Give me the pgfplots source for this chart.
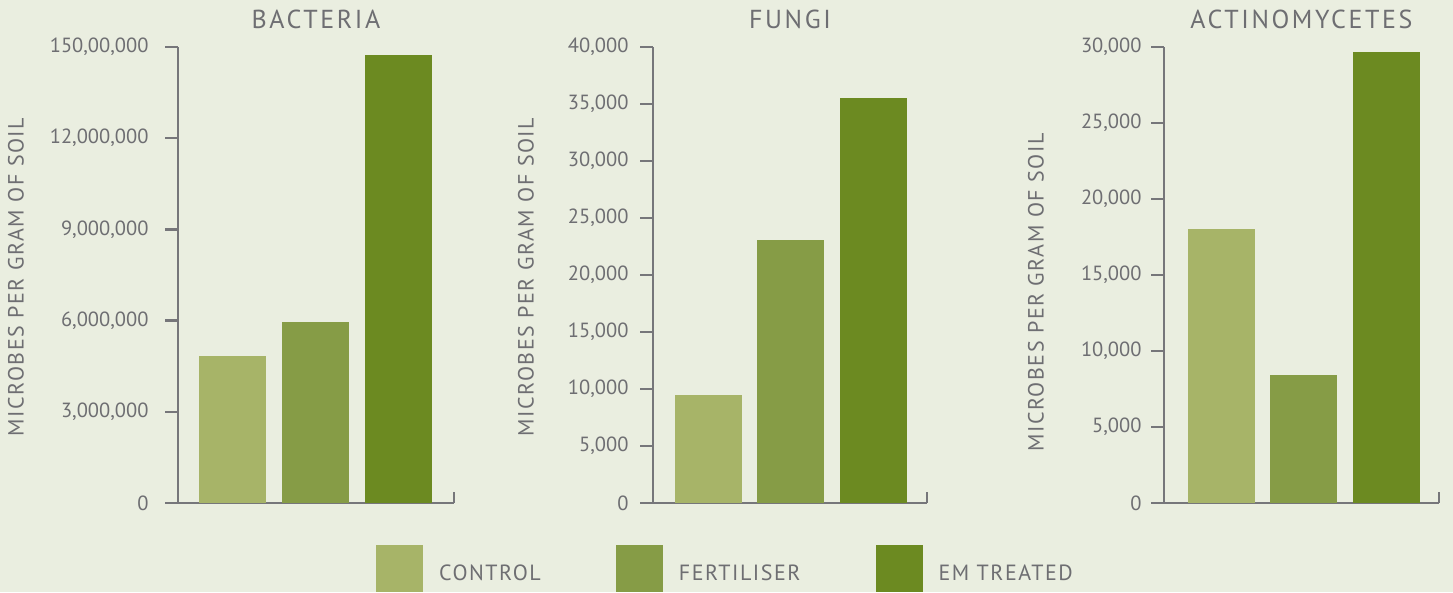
\documentclass[border=0pt]{standalone}
\usepackage{fontspec}
\setmainfont{PT Sans}
\newfontfamily\spacedA[LetterSpace=10]{PT Sans}
\newfontfamily\spacedB[LetterSpace=7]{PT Sans}
\usepackage{pgfplots}
\pgfplotsset{compat=1.18}
\definecolor{bg}{RGB}{234,238,224}
\definecolor{cControl}{RGB}{167,180,104}
\definecolor{cFert}{RGB}{134,156,70}
\definecolor{cEM}{RGB}{108,138,33}
\definecolor{axgray}{RGB}{118,118,122}
\definecolor{txt}{RGB}{110,110,114}

\pgfplotsset{
  panel/.style={
    scale only axis, anchor=south west,
    height=456pt,
    ymin=0,
    axis x line*=bottom, axis y line*=left,
    axis line style={draw=axgray, line width=2.4pt, -},
    xtick=\empty,
    every tick/.append style={draw=axgray, line width=2.4pt},
    ytick style={draw=axgray, line width=2.4pt},
    tick align=outside,
    major tick length=13pt,
    tick label style={font=\fontsize{20.5}{24}\selectfont, text=txt},
    /pgf/number format/assume math mode=true,
    /pgf/number format/1000 sep={,},
    scaled y ticks=false,
    ybar, bar width=67pt, bar shift=0pt,
    title style={font=\spacedA\fontsize{26}{30}\selectfont, text=txt, at={(axis description cs:0.5,1)}, anchor=base, yshift=12pt},
    clip=false,
  },
  ylab/.style 2 args={
    ylabel={MICROBES PER GRAM OF SOIL},
    every axis y label/.style={at={(axis description cs:#1,#2)}, rotate=90, anchor=center, font=\spacedB\fontsize{22}{26}\selectfont, text=txt},
  },
}

\begin{document}
\begin{tikzpicture}
\path[fill=bg, use as bounding box] (0,0) rectangle (1453pt,592pt);

% Panel 1: Bacteria
\begin{axis}[panel, at={(178pt,89pt)}, width=276pt,
  xmin=0.3434, xmax=3.6687, ymax=15000000,
  ytick={0,3000000,6000000,9000000,12000000,15000000},
  yticklabels={0,{3,000,000},{6,000,000},{9,000,000},{12,000,000},{150,00,000}},
  yticklabel style={xshift=-13pt},
  title={BACTERIA}, ylab={-0.587}{0.4956}]
\addplot[fill=cControl, draw=none] coordinates {(1,4820000)};
\addplot[fill=cFert, draw=none] coordinates {(2,5960000)};
\addplot[fill=cEM, draw=none] coordinates {(3,14730000)};
\draw[axgray, line width=2.4pt] (rel axis cs:1,0) -- ([yshift=11pt]rel axis cs:1,0);
\end{axis}

% Panel 2: Fungi
\begin{axis}[panel, at={(653pt,89pt)}, width=274pt,
  xmin=0.3333, xmax=3.6545, ymax=40000,
  ytick={0,5000,...,40000},
  yticklabel style={xshift=-8pt},
  title={FUNGI}, ylab={-0.4635}{0.4956},
  legend columns=3,
  legend style={at={(axis description cs:-1.0109,-0.1436)}, anchor=west,
    draw=none, fill=none, inner sep=0pt, outer sep=0pt,
    font=\spacedB\fontsize{22}{26}\selectfont, text=txt,
    /tikz/every odd column/.append style={column sep=14pt},
    /tikz/every even column/.append style={column sep=73pt}},
  legend image code/.code={\fill[#1] (0pt,-19pt) rectangle (47pt,28pt);}]
\addplot[fill=cControl, draw=none] coordinates {(1,9430)};
\addplot[fill=cFert, draw=none] coordinates {(2,23100)};
\addplot[fill=cEM, draw=none] coordinates {(3,35500)};
\draw[axgray, line width=2.4pt] (rel axis cs:1,0) -- ([yshift=11pt]rel axis cs:1,0);
\legend{CONTROL, FERTILISER, EM TREATED}
\end{axis}

% Panel 3: Actinomycetes
\begin{axis}[panel, at={(1164pt,89pt)}, width=275pt,
  xmin=0.309, xmax=3.642, ymax=30000,
  ytick={0,5000,...,30000},
  yticklabel style={xshift=-6pt},
  title={ACTINOMYCETES}, ylab={-0.4655}{0.4616}]
\addplot[fill=cControl, draw=none] coordinates {(1,18000)};
\addplot[fill=cFert, draw=none] coordinates {(2,8450)};
\addplot[fill=cEM, draw=none] coordinates {(3,29700)};
\draw[axgray, line width=2.4pt] (rel axis cs:1,0) -- ([yshift=11pt]rel axis cs:1,0);
\end{axis}
\end{tikzpicture}
\end{document}
